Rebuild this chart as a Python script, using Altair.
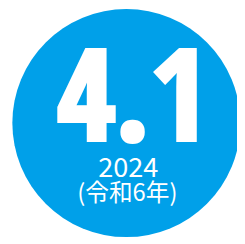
import altair as alt
import pandas as pd

# Data
headline = ["4.1"]
year = ["2024"]
era = ["(令和6年)"]
share = [1]

df = pd.DataFrame({"headline": headline, "year": year, "era": era, "share": share})

base = alt.Chart(df)

disc = base.mark_arc(radius=118, color="#00A0E9").encode(
    theta=alt.Theta("share:Q"),
    x=alt.value(122.5),
    y=alt.value(115),
)

big = base.mark_text(
    font="Open Sans Condensed",
    fontWeight=800,
    fontSize=131,
    color="white",
    stroke="white",
    strokeWidth=4,
    strokeJoin="miter",
    align="center",
    baseline="alphabetic",
).encode(text="headline:N", x=alt.value(129), y=alt.value(133))

yr = base.mark_text(
    font="Noto Sans CJK JP",
    fontSize=28,
    color="white",
    align="center",
    baseline="alphabetic",
).encode(text="year:N", x=alt.value(124.5), y=alt.value(171))

er = base.mark_text(
    font="Noto Sans CJK JP",
    fontSize=24.5,
    color="white",
    align="center",
    baseline="alphabetic",
).encode(text="era:N", x=alt.value(123.5), y=alt.value(196))

chart = (
    alt.layer(disc, big, yr, er)
    .properties(width=237, height=236, padding=0, autosize="none", background="white")
    .configure_view(stroke=None)
)

chart.save("out.html", embed_options={"renderer": "svg", "actions": False})
